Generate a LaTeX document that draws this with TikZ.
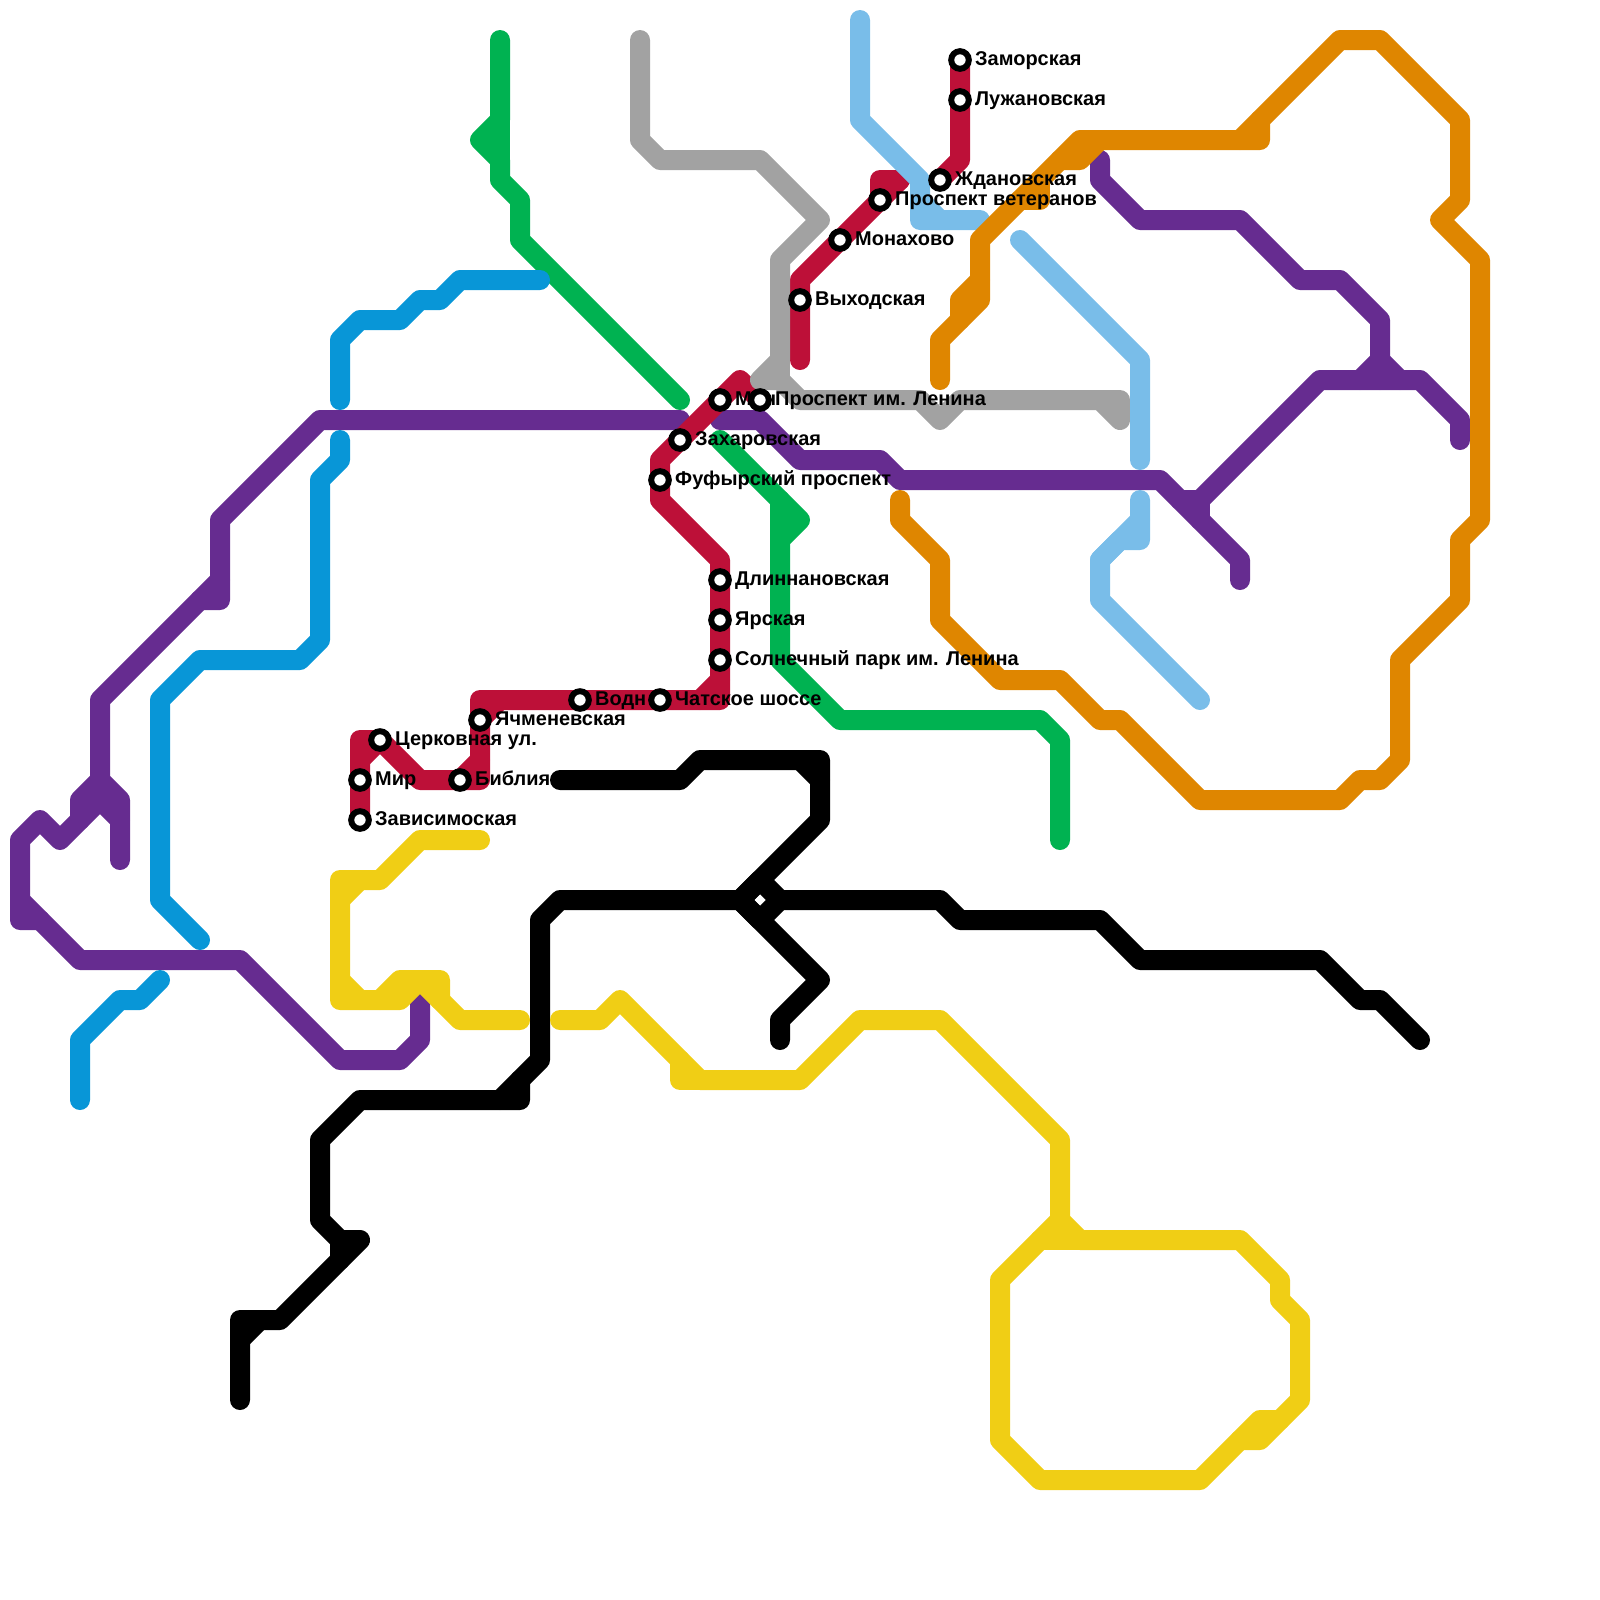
\documentclass[tikz,border=0pt]{standalone}
\usepackage{fontspec}
\setmainfont{Liberation Sans}
\definecolor{cCrimson}{HTML}{BD1038}
\definecolor{cPurple}{HTML}{662C90}
\definecolor{cGreen}{HTML}{00B251}
\definecolor{cGray}{HTML}{A2A2A2}
\definecolor{cBlue}{HTML}{0896D7}
\definecolor{cSky}{HTML}{79BDE9}
\definecolor{cOrange}{HTML}{DF8600}
\definecolor{cYellow}{HTML}{F0CE15}
\tikzset{
  metro/.style={line width=5mm,line join=round,line cap=round},
  lCrimson/.style={metro,draw=cCrimson},
  lPurple/.style={metro,draw=cPurple},
  lGreen/.style={metro,draw=cGreen},
  lGray/.style={metro,draw=cGray},
  lBlue/.style={metro,draw=cBlue},
  lSky/.style={metro,draw=cSky},
  lOrange/.style={metro,draw=cOrange},
  lYellow/.style={metro,draw=cYellow},
  lBlack/.style={metro,draw=black},
  stationmark/.style={circle,draw=black,fill=white,line width=1.5mm,minimum size=4.4mm,inner sep=0pt,outer sep=0pt},
  stationlabel/.style={anchor=base west,inner sep=0pt,outer sep=0pt,text=black,font=\fontsize{14.2pt}{16pt}\selectfont\bfseries}
}
\begin{document}
\begin{tikzpicture}[x=5mm,y=-5mm]
\useasboundingbox (0,0) rectangle (80,80);
% green
\draw[lGreen] (25,2)--(25,6)--(24,7)--(25,8)--(25,9)--(26,10)--(26,12)--(34,20);
\draw[lGreen] (25,6)--(25,8);
\draw[lGreen] (36,22)--(40,26)--(39,27)--(39,33)--(42,36)--(52,36)--(53,37)--(53,42);
\draw[lGreen] (39,25)--(39,27);
% black
\draw[lBlack] (28,39)--(34,39)--(35,38)--(41,38)--(41,41)--(37,45)--(41,49)--(39,51)--(39,52);
\draw[lBlack] (40,38)--(41,39);
\draw[lBlack] (37,45)--(38,44)--(39,45)--(38,46)--cycle;
\draw[lBlack] (71,52)--(69,50)--(68,50)--(66,48)--(57,48)--(55,46)--(48,46)--(47,45)--(39,45);
\draw[lBlack] (37,45)--(28,45)--(27,46)--(27,53)--(25,55);
\draw[lBlack] (26,54)--(26,55)--(18,55)--(16,57)--(16,61)--(17,62)--(17,63);
\draw[lBlack] (17,62)--(18,62)--(14,66)--(12,66)--(12,70);
\draw[lBlack] (13,66)--(12,67);
% purple
\draw[lPurple] (34,21)--(16,21)--(11,26)--(11,30)--(10,30);
\draw[lPurple] (11,29)--(5,35)--(5,39)--(6,40)--(6,43);
\draw[lPurple] (5,39)--(4,40)--(4,41);
\draw[lPurple] (6,41)--(5,40)--(3,42)--(2,41)--(1,42)--(1,46)--(2,46);
\fill[cPurple] (4,40)--(5,39)--(6,40)--(6,41)--(5,40)--(4,41)--cycle;
\draw[lPurple] (1,45)--(4,48)--(12,48)--(17,53)--(20,53)--(21,52)--(21,50);
\draw[lPurple] (36,21)--(38,21)--(40,23)--(44,23)--(45,24)--(58,24)--(62,28)--(62,29);
\draw[lPurple] (59,25)--(60,25)--(60,26);
\draw[lPurple] (60,25)--(66,19)--(71,19)--(73,21)--(73,22);
\draw[lPurple] (68,19)--(69,18)--(70,19);
\draw[lPurple] (69,19)--(69,16)--(67,14)--(65,14)--(62,11)--(57,11)--(55,9)--(55,8);
% yellow
\draw[lYellow] (24,42)--(21,42)--(19,44)--(17,44)--(17,50)--(20,50)--(21,49)--(23,51)--(26,51);
\draw[lYellow] (18,44)--(17,45);
\draw[lYellow] (17,49)--(18,50);
\draw[lYellow] (19,50)--(20,49)--(22,49)--(22,50);
\draw[lYellow] (28,51)--(30,51)--(31,50)--(35,54)--(40,54)--(43,51)--(47,51)--(53,57)--(53,61)--(54,62)--(62,62)--(64,64)--(64,65)--(65,66)--(65,70)--(63,72)--(62,72);
\draw[lYellow] (34,53)--(34,54)--(35,54);
\draw[lYellow] (53,61)--(50,64)--(50,72)--(52,74)--(60,74)--(63,71)--(64,71);
\draw[lYellow] (52,62)--(54,62);
% crimson
\draw[lCrimson] (48,3)--(48,8)--(47,9);
\draw[lCrimson] (45,9)--(44,9)--(44,10)--(40,14)--(40,18);
\draw[lCrimson] (44,10)--(45,9);
\draw[lCrimson] (38,20)--(37,19)--(33,23)--(33,25)--(36,28)--(36,35)--(24,35)--(24,39)--(21,39)--(19,37)--(18,37)--(18,41);
\draw[lCrimson] (18,38)--(19,37);
\draw[lCrimson] (24,38)--(23,39);
\draw[lCrimson] (24,36)--(25,35);
\draw[lCrimson] (35,35)--(36,34);
% gray
\draw[lGray] (32,2)--(32,7)--(33,8)--(38,8)--(41,11)--(39,13)--(39,18)--(38,19)--(39,19)--(40,20)--(46,20)--(47,21)--(48,20)--(55,20)--(56,21)--(56,20)--(55,20);
\draw[lGray] (39,18)--(39,19);
% blue
\draw[lBlue] (27,14)--(23,14)--(22,15)--(21,15)--(20,16)--(18,16)--(17,17)--(17,20);
\draw[lBlue] (17,22)--(17,23)--(16,24)--(16,32)--(15,33)--(10,33)--(8,35)--(8,45)--(10,47);
\draw[lBlue] (8,49)--(7,50)--(6,50)--(4,52)--(4,55);
% sky
\draw[lSky] (43,1)--(43,6)--(46,9)--(46,11)--(49,11);
\draw[lSky] (46,10)--(47,11);
\draw[lSky] (51,12)--(57,18)--(57,23);
\draw[lSky] (57,25)--(57,27)--(56,27)--(55,28)--(55,30)--(60,35);
\draw[lSky] (57,26)--(55,28);
% orange
\draw[lOrange] (47,19)--(47,17)--(49,15)--(49,12)--(54,7)--(63,7)--(63,6)--(67,2)--(69,2)--(73,6)--(73,10)--(72,11)--(74,13)--(74,26)--(73,27)--(73,30)--(70,33)--(70,38)--(69,39)--(68,39)--(67,40)--(60,40)--(56,36)--(55,36)--(53,34)--(50,34)--(47,31)--(47,28)--(45,26)--(45,25);
\draw[lOrange] (49,14)--(48,15)--(48,16);
\draw[lOrange] (51,10)--(52,10)--(52,9);
\draw[lOrange] (53,8)--(54,8)--(55,7);
\draw[lOrange] (62,7)--(63,6);
% labels, then station rings
\foreach \n/\x/\y/\t in {a/48/3/Заморская,b/48/5/Лужановская,c/47/9/Ждановская,d/44/10/Проспект ветеранов,e/42/12/Монахово,f/40/15/Выходская,g/36/20/Мин,h/34/22/Захаровская,i/33/24/Фуфырский проспект,j/36/29/Длиннановская,k/36/31/Ярская,l/36/33/Солнечный парк им. Ленина,n/33/35/Чатское шоссе,o/29/35/Водн,p/24/36/Ячменевская,q/23/39/Библия,r/19/37/Церковная ул.,s/18/39/Мир,t/18/41/Зависимоская,m/38/20/Проспект им. Ленина}
  \node[stationlabel] (label\n) at (\x+0.76,\y+0.27) {\t};
\foreach \n/\x/\y in {a/48/3,b/48/5,c/47/9,d/44/10,e/42/12,f/40/15,g/36/20,h/34/22,i/33/24,j/36/29,k/36/31,l/36/33,n/33/35,o/29/35,p/24/36,q/23/39,r/19/37,s/18/39,t/18/41,m/38/20}
  \node[stationmark] (st\n) at (\x,\y) {};
\end{tikzpicture}
\end{document}
